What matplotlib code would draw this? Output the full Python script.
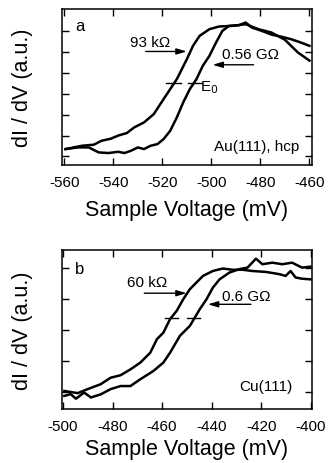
import matplotlib
matplotlib.use("Agg")
import matplotlib.pyplot as plt

plt.rcParams['font.family'] = ['Liberation Sans', 'DejaVu Sans']
plt.rcParams['axes.unicode_minus'] = False

# panel a: Au(111), hcp
a_x_93k = [-559.5, -552.8, -548.0, -544.8, -541.0, -538.0, -534.5, -531.5, -527.5, -523.5,
           -519.5, -516.8, -514.1, -510.0, -507.5, -504.8, -500.8, -496.8, -491.5, -486.0,
           -480.8, -475.5, -470.0, -464.8, -460.0]
a_y_93k = [0.35, 0.51, 0.56, 0.75, 0.85, 1.00, 1.12, 1.39, 1.63, 2.03,
           2.75, 3.23, 3.71, 4.67, 5.31, 5.79, 6.11, 6.24, 6.27, 6.35,
           6.11, 5.95, 5.60, 5.00, 4.60]
a_x_056G = [-559.5, -554.5, -550.0, -546.0, -542.0, -538.0, -535.5, -532.8, -530.0, -527.5,
            -524.8, -522.0, -519.5, -516.8, -514.1, -511.5, -508.8, -506.1, -503.5, -500.8,
            -498.1, -495.5, -492.8, -488.8, -486.0, -483.5, -479.5, -475.5, -471.5, -467.5,
            -463.5, -460.0]
a_y_056G = [0.35, 0.43, 0.43, 0.19, 0.16, 0.22, 0.16, 0.27, 0.43, 0.35,
            0.51, 0.59, 0.83, 1.23, 1.87, 2.59, 3.23, 3.71, 4.35, 4.83,
            5.47, 6.03, 6.27, 6.30, 6.43, 6.19, 6.03, 5.85, 5.75, 5.63,
            5.47, 5.31]

# panel b: Cu(111)
b_x_60k = [-499.5, -494.1, -490.1, -484.8, -480.8, -476.8, -472.8, -468.8, -464.8, -462.1,
           -459.5, -456.8, -454.1, -451.5, -448.8, -446.1, -443.5, -439.5, -435.5, -431.5,
           -427.5, -423.5, -418.1, -412.8, -410.1, -408.1, -406.1, -403.5, -400.1]
b_y_60k = [0.02, -0.05, 0.08, 0.24, 0.45, 0.53, 0.72, 0.94, 1.26, 1.70,
           1.91, 2.35, 2.62, 2.99, 3.32, 3.54, 3.75, 3.91, 3.99, 3.95,
           3.95, 3.91, 3.88, 3.81, 3.75, 3.91, 3.70, 3.66, 3.64]
b_x_06G = [-499.5, -497.0, -494.8, -491.5, -488.8, -484.8, -480.8, -476.8, -472.8, -468.8,
           -463.5, -459.5, -456.8, -452.8, -448.8, -444.8, -442.1, -439.5, -436.8, -432.8,
           -428.8, -425.5, -422.1, -419.5, -415.5, -411.5, -407.5, -403.5, -400.1]
b_y_06G = [-0.14, -0.08, -0.23, -0.03, -0.19, -0.09, 0.08, 0.18, 0.18, 0.40,
           0.67, 0.94, 1.26, 1.81, 2.13, 2.67, 2.99, 3.37, 3.64, 3.86,
           3.97, 4.02, 4.31, 4.13, 4.18, 4.13, 4.18, 4.02, 4.05]

fig = plt.figure(figsize=(3.29, 4.64), dpi=100)
ax1 = fig.add_axes([0.188, 0.642, 0.760, 0.336])
ax2 = fig.add_axes([0.188, 0.116, 0.760, 0.343])


def style(ax, xlim, ylim, xticks, yticks, pad):
    ax.set_xlim(*xlim)
    ax.set_ylim(*ylim)
    ax.set_xticks(xticks)
    ax.set_yticks(yticks)
    ax.set_yticklabels([])
    ax.tick_params(direction='in', top=True, right=True, length=5, width=1,
                   labelsize=11, pad=7)
    for s in ax.spines.values():
        s.set_linewidth(1.1)
    ax.set_xlabel('Sample Voltage (mV)', fontsize=15.5, labelpad=pad)
    ax.set_ylabel('dI / dV (a.u.)', fontsize=15.5, labelpad=14)


def arrow(ax, x0, x1, y):
    ax.annotate('', xy=(x1, y), xytext=(x0, y),
                arrowprops=dict(arrowstyle='-|>,head_length=0.6,head_width=0.18',
                                lw=1.0, color='k', shrinkA=0, shrinkB=0))


lw = 1.8
ax1.plot(a_x_93k, a_y_93k, color='k', lw=lw)
ax1.plot(a_x_056G, a_y_056G, color='k', lw=lw)
style(ax1, (-561, -459), (-0.42, 7.07), range(-560, -459, 20), range(0, 7), 7)
ax1.plot([-518.5, -512.5], [3.52, 3.52], color='k', lw=1)
ax1.plot([-509.5, -504.0], [3.52, 3.52], color='k', lw=1)
ax1.text(-504.8, 3.35, 'E$_0$', fontsize=11, va='center', ha='left')
ax1.text(-524.8, 5.5, '93 k\u03a9', fontsize=11, ha='center', va='center')
arrow(ax1, -526.8, -510.1, 5.04)
ax1.text(-484.1, 4.91, '0.56 G\u03a9', fontsize=11, ha='center', va='center')
arrow(ax1, -482.8, -499.5, 4.40)
ax1.text(-553.5, 6.27, 'a', fontsize=12, ha='center', va='center')
ax1.text(-464, 0.51, 'Au(111), hcp', fontsize=11, ha='right', va='center')

ax2.plot(b_x_60k, b_y_60k, color='k', lw=lw)
ax2.plot(b_x_06G, b_y_06G, color='k', lw=lw)
style(ax2, (-500.5, -399.5), (-0.57, 4.59), range(-500, -399, 20), range(0, 5), 4)
ax2.plot([-458.8, -453.5], [2.37, 2.37], color='k', lw=1)
ax2.plot([-450.1, -444.8], [2.37, 2.37], color='k', lw=1)
ax2.text(-466.1, 3.54, '60 k\u03a9', fontsize=11, ha='center', va='center')
arrow(ax2, -467.2, -450.1, 3.19)
ax2.text(-426.1, 3.10, '0.6 G\u03a9', fontsize=11, ha='center', va='center')
arrow(ax2, -424.1, -441.5, 2.83)
ax2.text(-493.5, 4.0, 'b', fontsize=12, ha='center', va='center')
ax2.text(-407.5, 0.18, 'Cu(111)', fontsize=11, ha='right', va='center')

fig.savefig('out.png', dpi=100)
